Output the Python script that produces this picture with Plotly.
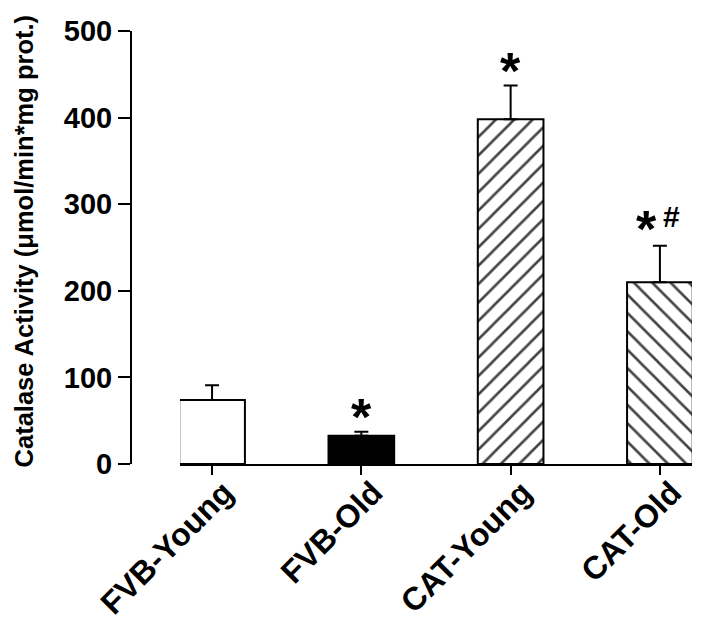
import plotly.graph_objects as go

# Catalase activity per group
groups = ["FVB-Young", "FVB-Old", "CAT-Young", "CAT-Old"]
activity = [73.8, 32.7, 398, 210]
sem = [17, 4.6, 39, 42]
sem_low = [0, 0, 0, 0]
stars = ["", "*", "*", "*"]
hashes = ["", "", "", "#"]

fills = ["white", "black", "white", "white"]
hatch = ["", "", "/", "\\"]

FONT = "Liberation Sans, Arial, sans-serif"

fig = go.Figure()

fig.add_trace(go.Bar(
    x=groups,
    y=activity,
    width=0.44,
    marker=dict(
        color=fills,
        line=dict(color="black", width=2),
        pattern=dict(shape=hatch, fgcolor="black", bgcolor="white",
                     fgopacity=1, size=13, solidity=0.2),
    ),
    error_y=dict(type="data", symmetric=False, array=sem, arrayminus=sem_low,
                 color="black", thickness=2, width=7),
    showlegend=False,
))

# significance marks above the error bars
for g, v, e, s, h in zip(groups, activity, sem, stars, hashes):
    if s:
        fig.add_annotation(
            x=g, y=v + e, text=s, showarrow=False,
            yanchor="bottom", yshift=-14 if h else -16, xshift=-13 if h else 0,
            font=dict(family=FONT, size=52, color="black", weight="bold"),
        )
    if h:
        fig.add_annotation(
            x=g, y=v + e, text=h, showarrow=False,
            yanchor="bottom", yshift=11, xshift=12,
            font=dict(family=FONT, size=30, color="black", weight="bold"),
        )

# y axis title placed as an annotation so it sits where the original does
fig.add_annotation(
    text="Catalase Activity (\u03bcmol/min*mg prot.)",
    xref="paper", yref="paper", x=-0.19, y=0.515,
    xanchor="center", yanchor="middle", textangle=-90, showarrow=False,
    font=dict(family=FONT, size=25.5, color="black", weight="bold"),
)

fig.update_layout(
    width=707,
    height=632,
    margin=dict(l=131, r=15, t=31, b=168),
    plot_bgcolor="white",
    paper_bgcolor="white",
    font=dict(family=FONT, color="black"),
    xaxis=dict(
        domain=[0.0873, 1],
        range=[-0.215, 3.215],
        automargin=False,
        showline=True, linecolor="black", linewidth=2,
        ticks="outside", ticklen=9, tickwidth=2, tickcolor="black",
        tickangle=-45, ticklabelshift=12, ticklabelstandoff=-14,
        tickfont=dict(family=FONT, size=32, weight="bold"),
        showgrid=False, zeroline=False,
    ),
    yaxis=dict(
        anchor="free", position=0,
        range=[0, 500],
        automargin=False,
        tickvals=[0, 100, 200, 300, 400, 500],
        showline=True, linecolor="black", linewidth=2,
        ticks="outside", ticklen=12, tickwidth=2, tickcolor="black",
        tickfont=dict(family=FONT, size=29, weight="bold"),
        showgrid=False, zeroline=False,
    ),
)

# the page body has a default 8px margin; drop it so the figure sits at 0,0
fig.write_html("out.html", config={"displayModeBar": False},
               post_script="document.body.style.margin='0';")
